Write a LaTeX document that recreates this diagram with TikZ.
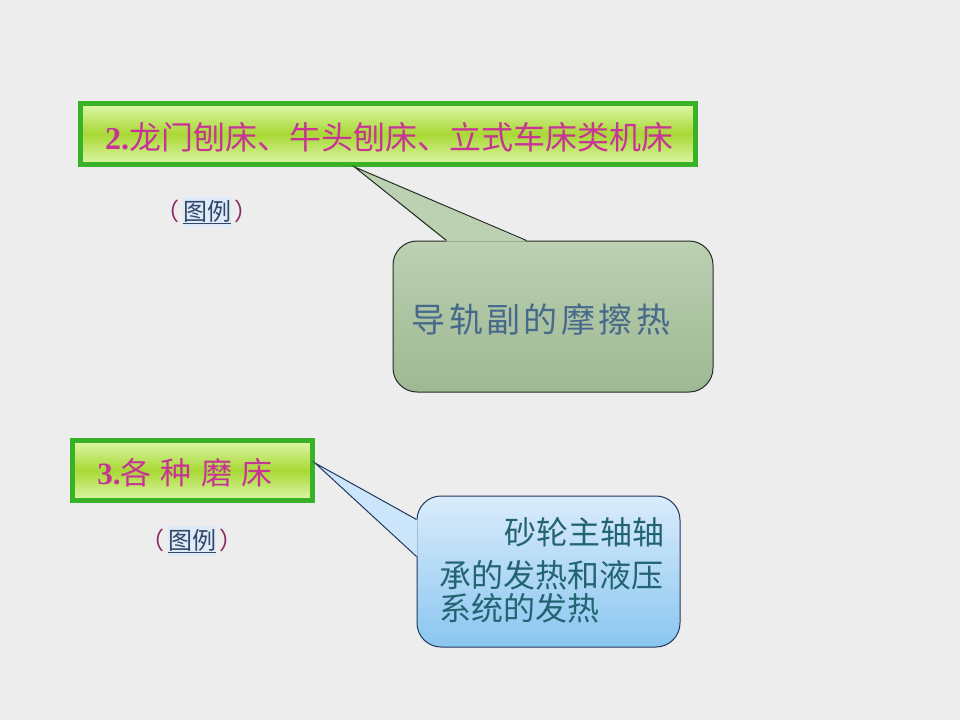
\documentclass[tikz,border=0pt]{standalone}
\usepackage{fontspec}
\newfontfamily\cjk{Noto Sans CJK SC}
\newfontfamily\cjkls[LetterSpace=10]{Noto Sans CJK SC}
\newfontfamily\numfont{Liberation Serif}
\usetikzlibrary{calc}
\definecolor{bg}{RGB}{237,237,237}
\definecolor{boxedge}{RGB}{58,178,40}
\definecolor{boxtop}{RGB}{222,247,170}
\definecolor{boxmid}{RGB}{168,216,52}
\definecolor{boxbot}{RGB}{205,238,130}
\definecolor{titlecol}{RGB}{200,52,150}
\definecolor{conetop}{RGB}{188,208,178}
\definecolor{conebot}{RGB}{158,184,148}
\definecolor{coneedge}{RGB}{35,45,35}
\definecolor{conetext}{RGB}{70,105,140}
\definecolor{ctwotop}{RGB}{218,236,252}
\definecolor{ctwobot}{RGB}{138,198,240}
\definecolor{ctwoedge}{RGB}{35,55,95}
\definecolor{ctwotext}{RGB}{35,100,115}
\definecolor{legparen}{RGB}{140,40,100}
\definecolor{legtext}{RGB}{50,70,105}
\definecolor{leghl}{RGB}{222,234,246}
\tikzset{
  titlebox/.style={draw=boxedge, line width=5pt, top color=boxtop, bottom color=boxtop, middle color=boxmid, inner sep=0pt},
  titletext/.style={text=titlecol, font=\cjk\fontsize{32}{36}\selectfont, inner sep=0pt},
  bodyone/.style={top color=conetop, bottom color=conebot, draw=coneedge, line width=1pt, rounded corners=24pt, inner sep=0pt},
  bodytwo/.style={top color=ctwotop, bottom color=ctwobot, draw=ctwoedge, line width=1pt, rounded corners=24pt, inner sep=0pt},
  legend/.style={font=\cjk\fontsize{24}{28}\selectfont, inner sep=0pt},
}
\newcommand{\legendtxt}{\textcolor{legparen}{（}\hspace{0.15em}\colorbox{leghl}{\kern-3pt\textcolor{legtext}{\underline{图例}}\kern-3pt}\hspace{0.15em}\textcolor{legparen}{）}}
\begin{document}
\begin{tikzpicture}[x=1pt,y=-1pt]
\fill[bg] (0,0) rectangle (960,720);
\useasboundingbox (0,0) rectangle (960,720);

% box 1
\node[titlebox, minimum width=615pt, minimum height=61pt] (b1) at (388,134) {};
\node[titletext] (t1) at (389,137) {{\numfont\bfseries 2.}龙门刨床、牛头刨床、立式车床类机床};
\node[legend] (l1) at (207,212) {\legendtxt};

% callout 1
\node[bodyone, minimum width=320pt, minimum height=151pt] (c1) at (553,316.5) {};
\coordinate (tip1) at ($(b1.south west)!0.446!(b1.south east)$);
\coordinate (c1a) at ($(c1.north west)+(54,0)$);
\coordinate (c1b) at ($(c1.north west)+(134,0)$);
\fill[conetop] ($(c1a)+(0,1.2)$) -- (tip1) -- ($(c1b)+(0,1.2)$) -- cycle;
\draw[coneedge, line width=1pt, line join=miter] (c1a) -- (tip1) -- (c1b);
\node[font=\cjkls\fontsize{34}{38}\selectfont, text=conetext, inner sep=0pt] (t2) at (541,320) {导轨副的摩擦热};

% box 2
\node[titlebox, minimum width=240pt, minimum height=60pt] (b2) at (192.5,470.5) {};
\node[titletext, font=\cjk\fontsize{31}{35}\selectfont] (t3) at (185,473) {{\numfont\bfseries 3.}各\hspace{0.3em}种\hspace{0.3em}磨\hspace{0.3em}床};
\node[legend] (l2) at (192,541) {\legendtxt};

% callout 2
\node[bodytwo, minimum width=263pt, minimum height=151pt] (c2) at (548.5,571.5) {};
\coordinate (tip2) at ($(b2.east)+(0,-7.5)$);
\coordinate (c2a) at ($(c2.north west)+(0,24)$);
\coordinate (c2b) at ($(c2.north west)+(0,61)$);
\fill[ctwotop!82!ctwobot] ($(c2a)+(1.2,0)$) -- (tip2) -- ($(c2b)+(1.2,0)$) -- cycle;
\draw[ctwoedge, line width=1pt, line join=miter] (c2a) -- (tip2) -- (c2b);
\node[font=\cjk\fontsize{32}{36}\selectfont, text=ctwotext, inner sep=0pt, anchor=east] (t4) at (665,532) {砂轮主轴轴};
\node[font=\cjk\fontsize{32}{36}\selectfont, text=ctwotext, inner sep=0pt, anchor=west] (t5) at (439,575) {承的发热和液压};
\node[font=\cjk\fontsize{32}{36}\selectfont, text=ctwotext, inner sep=0pt, anchor=west] (t6) at (439,608) {系统的发热};
\end{tikzpicture}
\end{document}
